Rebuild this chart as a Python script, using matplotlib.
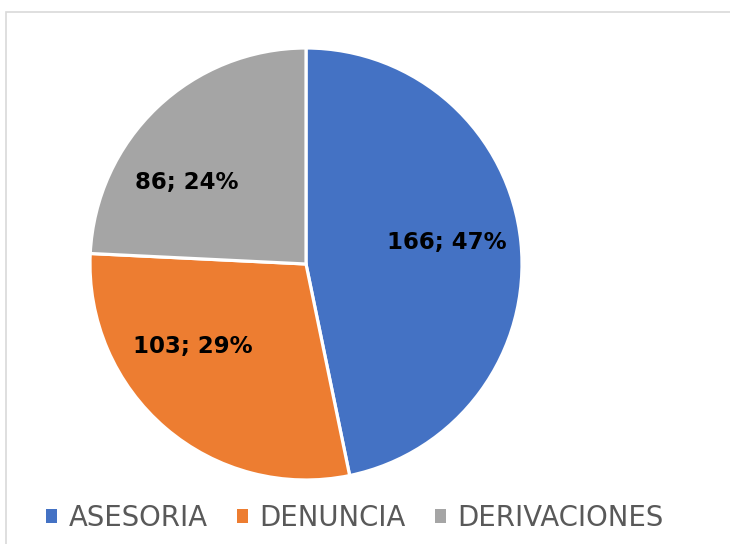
import matplotlib
matplotlib.use("Agg")
import matplotlib.pyplot as plt
from matplotlib.patches import Rectangle

categories = ["ASESORIA", "DENUNCIA", "DERIVACIONES"]
values = [166, 103, 86]
colors = ["#4472C4", "#ED7D31", "#A5A5A5"]

W, H = 730, 544
fig = plt.figure(figsize=(W / 100, H / 100), dpi=100)
fig.patch.set_facecolor("white")

# outer chart border
fig.patches.append(Rectangle((5.5 / W, -0.1), 2, (H - 12.5) / H + 0.1,
                             transform=fig.transFigure, fill=False,
                             edgecolor="#D9D9D9", linewidth=1.2))

cx, cy, r = 306, 264, 216
ax = fig.add_axes([(cx - r) / W, (H - cy - r) / H, 2 * r / W, 2 * r / H])
wedges, _ = ax.pie(values, colors=colors, startangle=90, counterclock=False,
                   radius=1, wedgeprops=dict(edgecolor="white", linewidth=2.3))
ax.set_xlim(-1, 1)
ax.set_ylim(-1, 1)
ax.set_aspect("equal")
ax.axis("off")

total = sum(values)
label_pos = [(447, 243), (193, 347), (187, 182)]
for v, (px, py) in zip(values, label_pos):
    ax.text((px - cx) / r, (cy - py) / r, f"{v}; {round(100 * v / total)}%",
            ha="center", va="center", fontsize=16.5, fontweight="bold",
            color="black", family="DejaVu Sans")

leg = fig.legend(wedges, categories, loc="center", bbox_to_anchor=(355 / W, 1 - 518 / H),
                 ncol=3, frameon=False, handlelength=0.4, handleheight=0.4,
                 handletextpad=0.43, columnspacing=1.05,
                 prop=dict(family="DejaVu Sans", size=19.8))
for t in leg.get_texts():
    t.set_color("#595959")
for h in leg.legend_handles:
    h.set_edgecolor("none")

fig.savefig("out.png", dpi=100)
